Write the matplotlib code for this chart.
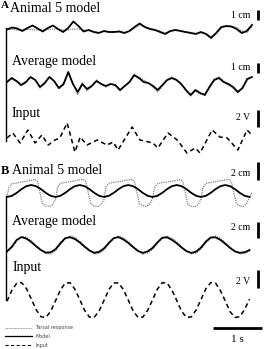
import matplotlib.pyplot as plt
import numpy as np

# Panel A, animal 5 : model (cm) and tarsal response (cm)
a5_model = [0.05, 0.25, 0.15, -0.1, 0.2, 0.45, 0.15, -0.15, 0.2, 0.45, 0.1, -0.2, 0.2, 0.85,
            0.4, -0.15, 0, -0.2, -0.3, -0.1, -0.2, -0.2, -0.15, -0.3, -0.1, 0.3, 0.65, 0.3,
            0.1, 0, -0.2, -0.4, -0.1, 0, -0.1, -0.2, -0.3, -0.4, -0.2, -0.4, -0.8, -0.3,
            0.3, 0.4, 0.35, 0.1, -0.3, -0.1, 0.5]
a5_tarsal = [0.05, 0.05, 0, 0, 0.05, 0.05, 0, 0, 0.05, 0.1, 0.05, 0, 0, 0.1, 0.1, 0,
             -0.05, -0.15, -0.25, -0.15, -0.2, -0.2, -0.15, -0.25, -0.1, 0.2, 0.5, 0.35,
             0.15, 0.05, -0.1, -0.3, -0.15, 0, -0.05, -0.2, -0.25, -0.35, -0.3, -0.35,
             -0.65, -0.35, 0.2, 0.35, 0.35, 0.25, -0.1, -0.25, 0.3]

# Panel A, average model (cm)
aavg_model = [0, 0.4, 0.1, -0.3, 0, 0.5, 0.2, -0.5, -0.1, 0.5, 0.1, -0.6, -0.2, 1.0,
              -0.2, -1.0, -0.2, -0.7, -0.4, 0.1, -0.2, -0.4, -0.2, -0.3, -0.8, -0.4,
              0, 0.7, 0.4, 0, -0.1, -0.4, -0.8, -0.3, 0.2, 0.4, 0.2, -0.2, -0.8, -1.3,
              -0.8, -1.1, -1.3, -0.5, 0.2, 0.4, 0, -0.2, -0.5, -1.0, -0.6, 0.3, 0.5]
aavg_tarsal = [0, 0.3, 0.1, -0.4, -0.1, 0.5, 0.2, -0.6, -0.2, 0.5, 0.1, -0.7, -0.3, 0.9,
               -0.1, -1.3, -0.1, -0.9, -0.4, 0.2, -0.2, -0.5, -0.2, -0.4, -0.9, -0.4,
               0, 0.6, 0.5, 0.2, -0.1, -0.5, -1.0, -0.4, 0.2, 0.5, 0.2, -0.2, -0.9, -1.4,
               -0.9, -1.2, -1.2, -0.4, 0.3, 0.5, 0.1, -0.3, -0.6, -1.1, -0.6, 0.2, 0.5]

# Panel A, input (V)
ain_t = [0, 0.12, 0.27, 0.43, 0.58, 0.72, 0.85, 0.99, 1.09, 1.24, 1.40, 1.51, 1.65, 1.86,
         2.06, 2.19, 2.29, 2.58, 2.74, 3.01, 3.11, 3.32, 3.51, 3.71, 3.88, 3.98, 4.23,
         4.39, 4.54, 4.76, 4.95, 5.05]
ain_v = [0.24, 0.82, -0.35, 1.18, -0.35, 0.59, -0.59, 0, 0.24, 2.0, -1.41, 0.35, -0.59, 0,
         -0.59, -0.24, -1.18, 1.53, 0, -0.35, -0.94, 0.82, 0, -1.53, -0.94, -1.53, 1.18,
         0.35, 0.24, -1.18, 1.18, 0.59]

# Panel B, animal 5 (cm), sampled every 0.1 s
b5_model = [-0.7, -0.57, -0.22, 0.22, 0.57, 0.7, 0.57, 0.22, -0.22, -0.57,
            -0.7, -0.57, -0.22, 0.22, 0.57, 0.7, 0.57, 0.22, -0.22, -0.57,
            -0.7, -0.57, -0.22, 0.22, 0.57, 0.7, 0.57, 0.22, -0.22, -0.57,
            -0.7, -0.57, -0.22, 0.22, 0.57, 0.7, 0.57, 0.22, -0.22, -0.57,
            -0.7, -0.57, -0.22, 0.22, 0.57, 0.7, 0.57, 0.22, -0.22, -0.57, -0.7]
b5_tarsal_t = [0, 0.04, 0.10, 0.20, 0.30, 0.40, 0.50, 0.58, 0.63, 0.68, 0.73, 0.80, 0.88, 0.94,
               1.00, 1.04, 1.10, 1.20, 1.30, 1.40, 1.50, 1.58, 1.63, 1.68, 1.73, 1.80, 1.88, 1.94,
               2.00, 2.04, 2.10, 2.20, 2.30, 2.40, 2.50, 2.58, 2.63, 2.68, 2.73, 2.80, 2.88, 2.94,
               3.00, 3.04, 3.10, 3.20, 3.30, 3.40, 3.50, 3.58, 3.63, 3.68, 3.73, 3.80, 3.88, 3.94,
               4.00, 4.04, 4.10, 4.20, 4.30, 4.40, 4.50, 4.58, 4.63, 4.68, 4.73, 4.80, 4.88, 4.94,
               5.00, 5.05]
b5_tarsal = [-0.7, 0.4, 0.85, 0.95, 1.05, 1.15, 1.25, 1.35, 1.1, -0.2, -1.5, -1.75, -1.8, -1.6,
             -1.0, 0.4, 0.9, 1.0, 1.1, 1.2, 1.3, 1.35, 1.1, -0.3, -1.5, -1.8, -1.8, -1.6,
             -1.0, 0.5, 0.9, 1.0, 1.1, 1.2, 1.3, 1.4, 1.1, -0.2, -1.5, -1.75, -1.8, -1.55,
             -0.9, 0.4, 0.85, 1.0, 1.05, 1.15, 1.25, 1.35, 1.1, -0.3, -1.6, -1.8, -1.85, -1.6,
             -1.0, 0.4, 0.9, 1.0, 1.1, 1.2, 1.3, 1.35, 1.0, -0.3, -1.5, -1.8, -1.8, -1.5,
             -0.8, -0.2]

# Panel B, average model (cm), every 0.1 s
bavg_model = [-0.75, -0.2, 0.6, 0.93, 0.75, 0.35, -0.15, -0.6, -0.9, -0.85,
              -0.5, 0.2, 0.8, 0.92, 0.7, 0.3, -0.2, -0.65, -0.92, -0.8,
              -0.4, 0.25, 0.8, 0.93, 0.65, 0.25, -0.25, -0.7, -0.93, -0.75,
              -0.35, 0.3, 0.85, 0.9, 0.6, 0.2, -0.3, -0.72, -0.93, -0.78,
              -0.3, 0.4, 0.88, 0.9, 0.6, 0.15, -0.35, -0.75, -0.92, -0.85, -0.6]
bavg_tarsal = [-0.8, -0.35, 0.45, 1.0, 0.95, 0.5, -0.05, -0.55, -1.0, -1.05,
               -0.7, 0.05, 0.75, 1.05, 0.9, 0.45, -0.1, -0.6, -1.05, -1.0,
               -0.6, 0.1, 0.75, 1.05, 0.85, 0.4, -0.15, -0.65, -1.05, -0.95,
               -0.55, 0.15, 0.8, 1.05, 0.8, 0.35, -0.2, -0.7, -1.05, -0.95,
               -0.5, 0.25, 0.85, 1.05, 0.8, 0.3, -0.25, -0.75, -1.05, -1.0, -0.75]

# Panel B, input (V), every 0.1 s
bin_v = [-0.13, 1.07, 1.86, 1.94, 1.27, 0.13, -1.07, -1.86, -1.94, -1.27,
         -0.1, 1.1, 1.88, 1.92, 1.2, 0.05, -1.15, -1.9, -1.92, -1.2,
         -0.05, 1.15, 1.9, 1.9, 1.15, 0.0, -1.2, -1.92, -1.9, -1.15,
         0.0, 1.2, 1.92, 1.9, 1.1, -0.05, -1.25, -1.93, -1.88, -1.1,
         0.05, 1.25, 1.93, 1.88, 1.05, -0.1, -1.3, -1.94, -1.85, -1.05, 0.1]

legend_labels = ['Tarsal response', 'Model', 'Input']

# figure in pixel coordinates
fig = plt.figure(figsize=(2.66, 3.49), dpi=100)
ax = fig.add_axes([0, 0, 1, 1])
ax.set_xlim(0, 266)
ax.set_ylim(349, 0)
ax.axis('off')

X0, PX_S = 7, 48.5
serif = 'Liberation Serif'
dot_kw = dict(color='#808080', lw=0.9, ls=(0, (1, 0.8)))
solid_kw = dict(color='black', lw=1.3)
dash_kw = dict(color='black', lw=1.1, ls=(0, (3, 2.2)))


def trace(t, v, y0, px_per_unit, **kw):
    t = np.asarray(t, dtype=float)
    ax.plot(X0 + t * PX_S, y0 - np.asarray(v) * px_per_unit, **kw)


def tgrid(vals, end):
    return np.linspace(0, end, len(vals))


# ---- panel A
trace(tgrid(a5_tarsal, 5.05), a5_tarsal, 30, 10, **dot_kw)
trace(tgrid(a5_model, 5.05), a5_model, 30, 10, **solid_kw)
trace(tgrid(aavg_tarsal, 5.05), aavg_tarsal, 82, 10, **dot_kw)
trace(tgrid(aavg_model, 5.05), aavg_model, 82, 10, **solid_kw)
trace(ain_t, ain_v, 140, 8.5, **dash_kw)
ax.plot([6, 6], [28, 141], color='black', lw=1)

# ---- panel B
trace(b5_tarsal_t, b5_tarsal, 191, 8.5, **dot_kw)
trace(tgrid(b5_model, 5.0), b5_model, 191, 8.5, **solid_kw)
trace(tgrid(bavg_tarsal, 5.0), bavg_tarsal, 245, 8.5, **dot_kw)
trace(tgrid(bavg_model, 5.0), bavg_model, 245, 8.5, **solid_kw)
trace(tgrid(bin_v, 5.0), bin_v, 300, 9, **dash_kw)
ax.plot([6, 6], [196, 300], color='black', lw=1)

# labels
ax.text(0.5, 5, 'A', fontsize=8, fontweight='bold', family=serif, va='center')
ax.text(10, 8, 'Animal 5 model', fontsize=10, family=serif, va='center')
ax.text(12, 61, 'Average model', fontsize=10, family=serif, va='center')
ax.text(12, 114, 'Input', fontsize=10, family=serif, va='center')
ax.text(1, 171, 'B', fontsize=9, fontweight='bold', family=serif, va='center')
ax.text(12, 171, 'Animal 5 model', fontsize=10, family=serif, va='center')
ax.text(12, 221, 'Average model', fontsize=10, family=serif, va='center')
ax.text(13, 268, 'Input', fontsize=10, family=serif, va='center')

# scale bars
bars = [(10, 20, '1 cm', 15), (63, 73, '1 cm', 68), (110, 127, '2 V', 117),
        (162, 180, '2 cm', 173), (222, 238, '2 cm', 228), (270, 288, '2 V', 281)]
for y1, y2, lab, yt in bars:
    ax.plot([258, 258], [y1, y2], color='black', lw=2, solid_capstyle='butt')
    ax.text(250, yt, lab, fontsize=7, family=serif, ha='right', va='center')

ax.plot([213, 262], [328, 328], color='black', lw=2, solid_capstyle='butt')
ax.text(237, 339, '1 s', fontsize=8, family=serif, ha='center', va='center')

# legend
for (y, kw), lab in zip([(328, dot_kw), (336, solid_kw), (345, dash_kw)], legend_labels):
    k = dict(kw)
    k['lw'] = k['lw'] * 0.7
    ax.plot([5, 32], [y, y], **k)
    ax.text(35, y, lab, fontsize=3.5, color='#444444', va='center')

fig.savefig('out.png', dpi=100)
